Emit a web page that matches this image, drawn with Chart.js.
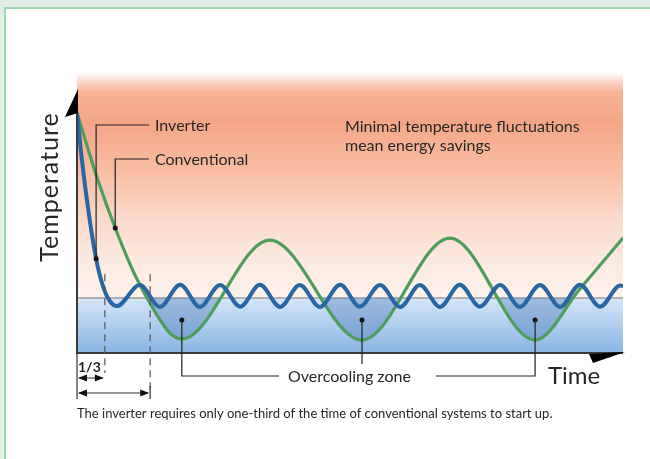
<!DOCTYPE html>
<html>
<head>
<meta charset="utf-8">
<script src="https://cdn.jsdelivr.net/npm/chart.js@4.4.0/dist/chart.umd.min.js"></script>
<style>
  body { margin: 0; overflow: hidden; background: #e1eee5; }
  canvas { display: block; }
</style>
</head>
<body>
<canvas id="grafico" width="650" height="459"></canvas>
<script>
// Inverter (blue): time (0-100) / temperature (0-100)
const tempoInverter = [0, 0.9, 2.2, 3.5, 4.8, 6.0, 7.3, 11.5, 15.2, 18.9, 22.5, 26.2, 29.9, 33.5, 37.2, 40.8, 44.5, 48.2, 51.8, 55.5, 59.2, 62.8, 66.5, 70.1, 73.8, 77.5, 81.1, 84.8, 88.5, 92.1, 95.8, 99.5, 100];
const tempInverter  = [85.4, 68.7, 49.1, 33.5, 23.5, 18.5, 16.7, 24.2, 16.4, 24.3, 16.4, 24.2, 16.5, 24.3, 16.4, 24.2, 16.4, 24.3, 16.5, 24.2, 16.4, 24.2, 16.4, 24.3, 16.5, 24.2, 16.4, 24.2, 16.4, 24.3, 16.5, 24.0, 23.8];

// Conventional (green)
const tempoConvencional = [0, 3.7, 7.0, 10.6, 14.3, 17.0, 19.2, 35.3, 52.2, 68.3, 83.9, 92.1, 100];
const tempConvencional  = [85.4, 62.3, 44.5, 27.8, 14.6, 7.1, 5.0, 40.2, 4.6, 40.9, 4.6, 22.8, 40.9];

// set temperature and overcooling zone markers
const tempAjuste = 19.6;
const tempoSuperResfriamento = [19.2, 52.2, 83.9];
const tempSuperResfriamento  = [11.7, 11.7, 11.7];

// time to reach set temperature
const partidaInverter = 5.1;
const partidaConvencional = 13.4;

// which points carry the label dots
const pontoRotuloInverter = 3;
const pontoRotuloConvencional = 2;

const rotulos = {
    inverter: "Inverter",
    convencional: "Conventional",
    nota1: "Minimal temperature fluctuations",
    nota2: "mean energy savings",
    zona: "Overcooling zone",
    eixoX: "Time",
    eixoY: "Temperature",
    fracao: "1/3",
    legenda: "The inverter requires only one-third of the time of conventional systems to start up."
};

function montarPontos(xs, ys) {
    return xs.map((x, i) => ({ x: x, y: ys[i] }));
}

function seta(ctx, x, y, dir) {
    // small filled arrow head, dir = -1 left, 1 right
    ctx.beginPath();
    ctx.moveTo(x, y);
    ctx.lineTo(x - dir * 9, y - 3.5);
    ctx.lineTo(x - dir * 9, y + 3.5);
    ctx.closePath();
    ctx.fill();
}

const fundoPlugin = {
    id: "fundo",
    beforeDraw(chart) {
        const ctx = chart.ctx;
        const area = chart.chartArea;
        const ySet = chart.scales.y.getPixelForValue(tempAjuste);
        ctx.save();
        // page frame
        ctx.fillStyle = "#e1eee5";
        ctx.fillRect(0, 0, 650, 459);
        ctx.fillStyle = "#ffffff";
        ctx.fillRect(4, 7, 646, 452);
        ctx.strokeStyle = "#9fd7b1";
        ctx.lineWidth = 2;
        ctx.strokeRect(5, 8, 700, 500);

        // warm zone
        let g = ctx.createLinearGradient(0, area.top, 0, ySet);
        g.addColorStop(0, "rgba(247,170,140,0)");
        g.addColorStop(0.09, "#f7b296");
        g.addColorStop(0.22, "#f5a587");
        g.addColorStop(0.42, "#f8bba1");
        g.addColorStop(0.62, "#fad6c5");
        g.addColorStop(0.82, "#fce9df");
        g.addColorStop(1, "#fdf2ec");
        ctx.fillStyle = g;
        ctx.fillRect(area.left, area.top, area.right - area.left, ySet - area.top);

        // cool zone
        g = ctx.createLinearGradient(0, ySet, 0, area.bottom);
        g.addColorStop(0, "#d6e6f6");
        g.addColorStop(1, "#88b4e3");
        ctx.fillStyle = g;
        ctx.fillRect(area.left, ySet, area.right - area.left, area.bottom - ySet);
        ctx.restore();
    },
    afterDraw(chart) {
        const ctx = chart.ctx;
        const area = chart.chartArea;
        const sx = chart.scales.x;
        const sy = chart.scales.y;
        ctx.save();

        // axes
        ctx.strokeStyle = "#3a3a3a";
        ctx.lineWidth = 2;
        ctx.beginPath();
        ctx.moveTo(area.left, 95);
        ctx.lineTo(area.left, area.bottom);
        ctx.lineTo(area.right, area.bottom);
        ctx.stroke();
        ctx.fillStyle = "#000";
        ctx.beginPath();
        ctx.moveTo(area.left + 1, 89);
        ctx.lineTo(area.left - 12, 117);
        ctx.lineTo(area.left + 1, 113);
        ctx.closePath();
        ctx.fill();
        ctx.beginPath();
        ctx.moveTo(area.right - 34, area.bottom + 1);
        ctx.lineTo(area.right + 2, area.bottom - 1);
        ctx.lineTo(area.right - 30, area.bottom + 10);
        ctx.closePath();
        ctx.fill();

        // leaders
        ctx.strokeStyle = "#222";
        ctx.lineWidth = 1.2;
        const pInv = chart.getDatasetMeta(0).data[pontoRotuloInverter];
        const pConv = chart.getDatasetMeta(1).data[pontoRotuloConvencional];
        ctx.beginPath();
        ctx.moveTo(pInv.x, pInv.y);
        ctx.lineTo(pInv.x, 125);
        ctx.lineTo(149, 125);
        ctx.moveTo(pConv.x, pConv.y);
        ctx.lineTo(pConv.x, 159);
        ctx.lineTo(149, 159);
        const m = chart.getDatasetMeta(3).data;
        ctx.moveTo(m[0].x, m[0].y);
        ctx.lineTo(m[0].x, 376);
        ctx.lineTo(279, 376);
        ctx.moveTo(m[1].x, m[1].y);
        ctx.lineTo(m[1].x, 364);
        ctx.moveTo(m[2].x, m[2].y);
        ctx.lineTo(m[2].x, 376);
        ctx.lineTo(436, 376);
        ctx.stroke();

        // start-up dashed lines
        const xInv = sx.getPixelForValue(partidaInverter);
        const xConv = sx.getPixelForValue(partidaConvencional);
        const yTop = sy.getPixelForValue(28);
        ctx.strokeStyle = "#555";
        ctx.setLineDash([7, 5]);
        ctx.beginPath();
        ctx.moveTo(xInv, yTop);
        ctx.lineTo(xInv, 373);
        ctx.moveTo(xConv, yTop);
        ctx.lineTo(xConv, 390);
        ctx.stroke();
        ctx.setLineDash([]);

        // start-up arrows
        ctx.strokeStyle = "#333";
        ctx.fillStyle = "#111";
        ctx.lineWidth = 1.2;
        ctx.beginPath();
        ctx.moveTo(area.left, area.bottom);
        ctx.lineTo(area.left, 399);
        ctx.moveTo(xConv, 386);
        ctx.lineTo(xConv, 399);
        ctx.moveTo(area.left + 2, 378);
        ctx.lineTo(xInv - 2, 378);
        ctx.moveTo(area.left + 2, 393);
        ctx.lineTo(xConv - 2, 393);
        ctx.stroke();
        seta(ctx, area.left + 1, 378, -1);
        seta(ctx, xInv - 1, 378, 1);
        seta(ctx, area.left + 1, 393, -1);
        seta(ctx, xConv - 1, 393, 1);

        // texts
        ctx.fillStyle = "#262626";
        ctx.textBaseline = "middle";
        ctx.textAlign = "left";
        ctx.font = "16px Lato";
        ctx.fillText(rotulos.inverter, 155, 126);
        ctx.fillText(rotulos.convencional, 155, 160);
        ctx.fillText(rotulos.nota1, 345, 127);
        ctx.fillText(rotulos.nota2, 345, 146);
        ctx.fillText(rotulos.zona, 288, 377);
        ctx.font = "bold 14px Lato";
        ctx.fillText(rotulos.fracao, 78, 367);
        ctx.font = "24px Lato";
        ctx.fillText(rotulos.eixoX, 548, 376);
        ctx.font = "13px Lato";
        ctx.fillText(rotulos.legenda, 77, 414);
        ctx.font = "25px Lato";
        ctx.letterSpacing = "1px";
        ctx.translate(50, 187);
        ctx.rotate(-Math.PI / 2);
        ctx.textAlign = "center";
        ctx.fillText(rotulos.eixoY, 0, 0);
        ctx.restore();
    }
};

new Chart(document.getElementById("grafico"), {
    type: "line",
    data: {
        datasets: [
            {
                label: "Inverter",
                data: montarPontos(tempoInverter, tempInverter),
                borderColor: "#2a66a4",
                borderWidth: 4,
                cubicInterpolationMode: "monotone",
                pointRadius: c => c.dataIndex === pontoRotuloInverter ? 2.5 : 0,
                pointBackgroundColor: "#111",
                pointBorderWidth: 0,
                fill: false,
                order: 1
            },
            {
                label: "Conventional",
                data: montarPontos(tempoConvencional, tempConvencional),
                borderColor: "#4f9d5a",
                borderWidth: 3.2,
                cubicInterpolationMode: "monotone",
                pointRadius: c => c.dataIndex === pontoRotuloConvencional ? 2.5 : 0,
                pointBackgroundColor: "#111",
                pointBorderWidth: 0,
                fill: { target: { value: tempAjuste }, above: "rgba(0,0,0,0)", below: "rgba(55,105,180,0.34)" },
                order: 2
            },
            {
                label: "Set temperature",
                data: [{ x: 0, y: tempAjuste }, { x: 100, y: tempAjuste }],
                borderColor: "#9c9c9c",
                borderWidth: 1.5,
                pointRadius: 0,
                fill: false,
                order: 3
            },
            {
                label: "Overcooling zone",
                data: montarPontos(tempoSuperResfriamento, tempSuperResfriamento),
                showLine: false,
                pointRadius: 2.5,
                pointBackgroundColor: "#111",
                pointBorderWidth: 0,
                order: 0
            }
        ]
    },
    options: {
        responsive: false,
        animation: false,
        layout: { padding: { left: 77, right: 27, top: 72, bottom: 106 } },
        scales: {
            x: { type: "linear", min: 0, max: 100, display: false },
            y: { type: "linear", min: 0, max: 100, display: false }
        },
        plugins: {
            legend: { display: false },
            tooltip: { enabled: false }
        }
    },
    plugins: [fundoPlugin]
});
</script>
</body>
</html>
